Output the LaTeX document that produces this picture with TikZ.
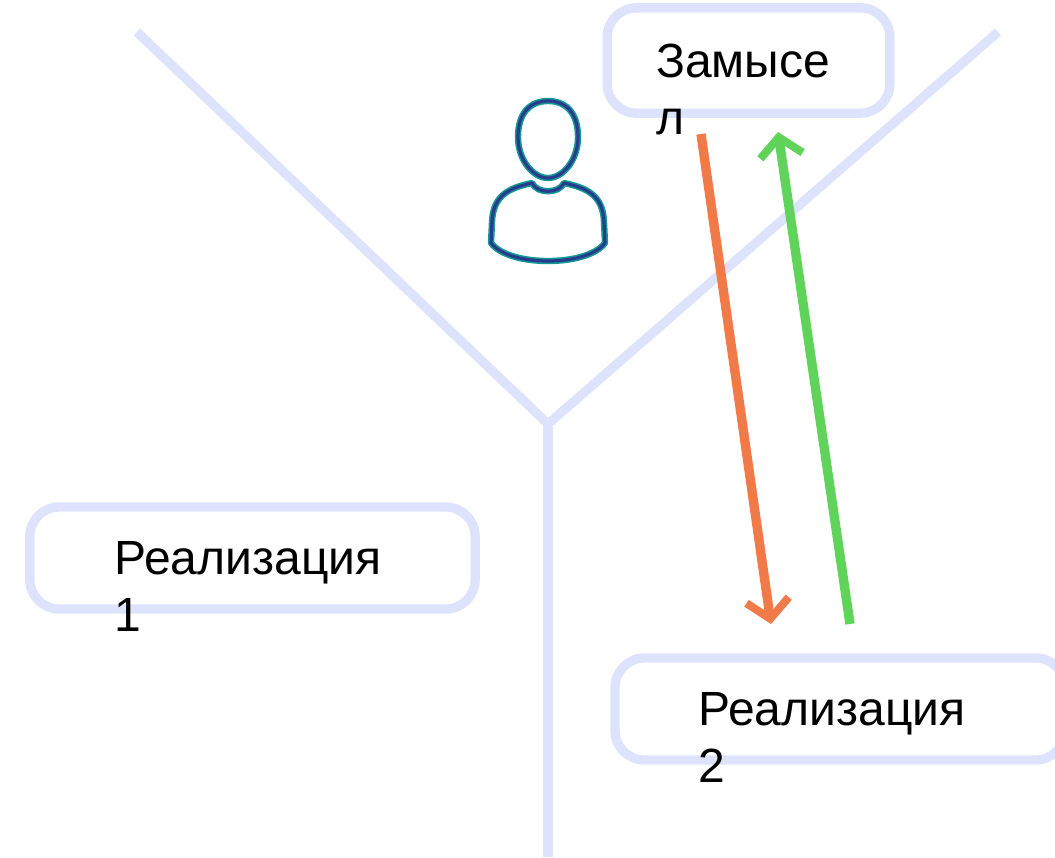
\documentclass[tikz,border=0pt]{standalone}
\usepackage{fontspec}
\setmainfont{Liberation Sans}
\usetikzlibrary{arrows.meta}
\definecolor{paleblue}{HTML}{DDE3FD}
\definecolor{arroworange}{HTML}{F07A48}
\definecolor{arrowgreen}{HTML}{5FD35A}
\definecolor{iconteal}{HTML}{149A94}
\definecolor{iconnavy}{HTML}{273C8C}
\begin{document}
\begin{tikzpicture}
    [x=0.75pt,y=-0.75pt,%%%%%%%%%%%%%%%%%%%%%%%%%%%%%%
        box/.style={rectangle,draw=paleblue,line width=7pt,rounded corners=22pt,inner sep=0pt},
        boxtext/.style={anchor=base west,align=left,inner sep=0pt,font=\fontsize{36}{42.5}\selectfont},
        branch/.style={draw=paleblue,line width=7pt},
        flow/.style={line width=7pt,-{Straight Barb[length=14pt,width=32pt,line width=6pt]}},
        iconline/.style={line width=4.8pt,draw=iconteal,line join=round},
        iconcore/.style={line width=2.4pt,draw=iconnavy,line join=round},
    ]%%%%%%%%%%%%%%%%%%%%%%%%%%%%%%
\useasboundingbox (0,0) rectangle (1055,857);
% branches
\coordinate (fork) at (548,424);
\coordinate (forkl) at (137,32);
\coordinate (forkr) at (998,32);
\coordinate (forkb) at (548,857);
\draw[branch] (forkl) -- (fork) -- (forkr);
\draw[branch] (fork) -- (forkb);
% boxes
\node[box, minimum width=212pt, minimum height=79pt] (idea) at (748.5,60.5) {};
\node[box, minimum width=334pt, minimum height=76.5pt] (real1) at (252.5,558) {};
\node[box, minimum width=337.5pt, minimum height=76.5pt] (real2) at (840,709) {};
\node[boxtext] (ideatext) at (656,134) {Замысе\\л};
\node[boxtext] (real1text) at (114,631) {Реализация\\1};
\node[boxtext] (real2text) at (698,782) {Реализация\\2};
% arrows
\coordinate (downa) at (701,134);
\coordinate (downb) at (771,624);
\coordinate (upa) at (850,624);
\coordinate (upb) at (778,132);
\draw[flow, arroworange] (downa) -- (downb);
\draw[flow, arrowgreen] (upa) -- (upb);
% person
\foreach \iconstyle in {iconline,iconcore}{
\draw[\iconstyle] (548,101) .. controls (566,101) and (578,113) .. (578,137)
    .. controls (578,160) and (563,178) .. (548,178)
    .. controls (533,178) and (518,160) .. (518,137)
    .. controls (518,113) and (530,101) .. (548,101) -- cycle;
\draw[\iconstyle] (532,183) .. controls (537,194) and (559,194) .. (564,183)
    .. controls (588,188) and (603,196) .. (604,222) -- (605,243)
    .. controls (595,256) and (570,261) .. (548,261)
    .. controls (526,261) and (501,256) .. (491,243) -- (492,222)
    .. controls (493,196) and (508,188) .. (532,183) -- cycle;
}
\end{tikzpicture}
\end{document}
